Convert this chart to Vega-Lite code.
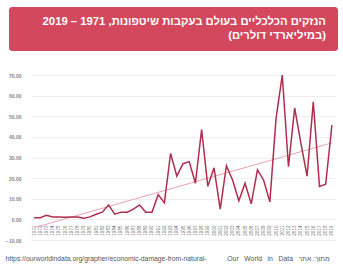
{
  "$schema": "https://vega.github.io/schema/vega-lite/v6.json",
  "padding": {"left": 5, "top": 7, "right": 5, "bottom": 0},
  "background": "white",
  "spacing": 21,
  "config": {
    "view": {"stroke": null},
    "font": "Liberation Sans"
  },
  "vconcat": [
    {
      "width": 329,
      "height": 44,
      "view": {"fill": "#d4485d", "stroke": null, "cornerRadius": 3},
      "data": {"values": [
        {"row": 1, "line": "2019 – 1971 ,הנזקים הכלכליים בעולם בעקבות שיטפונות"},
        {"row": 2, "line": "(במיליארדי דולרים)"}
      ]},
      "mark": {"type": "text", "align": "right", "baseline": "middle", "dx": -12, "fontSize": 11.3, "fontWeight": "bold", "color": "white", "font": "Liberation Sans"},
      "encoding": {
        "x": {"value": "width"},
        "y": {"field": "row", "type": "ordinal", "axis": null, "scale": {"padding": 1.7}},
        "text": {"field": "line"}
      }
    },
    {
      "width": 329,
      "height": 165,
      "title": {"text": "https://ourworldindata.org/grapher/economic-damage-from-natural-\u00a0\u00a0\u00a0\u00a0\u00a0\u00a0\u00a0\u00a0\u00a0\u00a0.Our\u00a0\u00a0\u00a0World\u00a0\u00a0\u00a0in\u00a0\u00a0\u00a0Data\u00a0\u00a0\u00a0מתוך: אתר", "orient": "bottom", "anchor": "start", "frame": "bounds", "fontSize": 6.8, "fontWeight": "normal", "color": "#555", "offset": 13, "font": "Liberation Sans"},
      "data": {"values": [
        {"year": 1971, "value": 0.8}, {"year": 1972, "value": 0.8}, {"year": 1973, "value": 2.0},
        {"year": 1974, "value": 1.2}, {"year": 1975, "value": 1.2}, {"year": 1976, "value": 1.0},
        {"year": 1977, "value": 1.2}, {"year": 1978, "value": 1.2}, {"year": 1979, "value": 0.5},
        {"year": 1980, "value": 1.2}, {"year": 1981, "value": 2.5}, {"year": 1982, "value": 3.5},
        {"year": 1983, "value": 7.0}, {"year": 1984, "value": 2.5}, {"year": 1985, "value": 3.5},
        {"year": 1986, "value": 3.5}, {"year": 1987, "value": 5.0}, {"year": 1988, "value": 7.0},
        {"year": 1989, "value": 3.5}, {"year": 1990, "value": 3.5}, {"year": 1991, "value": 12.0},
        {"year": 1992, "value": 8.0}, {"year": 1993, "value": 32.0}, {"year": 1994, "value": 21.0},
        {"year": 1995, "value": 27.0}, {"year": 1996, "value": 28.0}, {"year": 1997, "value": 17.5},
        {"year": 1998, "value": 43.5}, {"year": 1999, "value": 16.0}, {"year": 2000, "value": 25.0},
        {"year": 2001, "value": 5.0}, {"year": 2002, "value": 26.0}, {"year": 2003, "value": 19.0},
        {"year": 2004, "value": 9.0}, {"year": 2005, "value": 17.5}, {"year": 2006, "value": 7.5},
        {"year": 2007, "value": 24.0}, {"year": 2008, "value": 19.0}, {"year": 2009, "value": 8.5},
        {"year": 2010, "value": 49.0}, {"year": 2011, "value": 70.0}, {"year": 2012, "value": 25.5},
        {"year": 2013, "value": 54.0}, {"year": 2014, "value": 37.0}, {"year": 2015, "value": 21.0},
        {"year": 2016, "value": 57.0}, {"year": 2017, "value": 16.0}, {"year": 2018, "value": 17.0},
        {"year": 2019, "value": 45.7}
      ]},
      "encoding": {
        "x": {"field": "year", "type": "ordinal", "scale": {"type": "point", "range": [22, 326]},
          "axis": {"title": null, "labelAngle": -90, "labelFontSize": 4.6, "labelColor": "#6f6f6f", "domain": false, "ticks": false, "grid": false, "offset": -17, "labelPadding": 2}},
        "y": {"field": "value", "type": "quantitative", "scale": {"domain": [-10, 70], "nice": false, "zero": false},
          "axis": {"title": null, "values": [-10, 0, 10, 20, 30, 40, 50, 60, 70], "format": ".2f", "labelFontSize": 5, "labelColor": "#888", "labelFontWeight": "bold", "domain": false, "ticks": false, "offset": -22, "labelPadding": 10, "grid": true, "gridColor": "#ebebeb", "gridWidth": 0.8}}
      },
      "layer": [
        {
          "transform": [{"regression": "value", "on": "year"}],
          "mark": {"type": "line", "color": "#e8a5b3", "strokeWidth": 1}
        },
        {
          "mark": {"type": "line", "color": "#b02d4e", "strokeWidth": 1.5}
        }
      ]
    }
  ]
}
